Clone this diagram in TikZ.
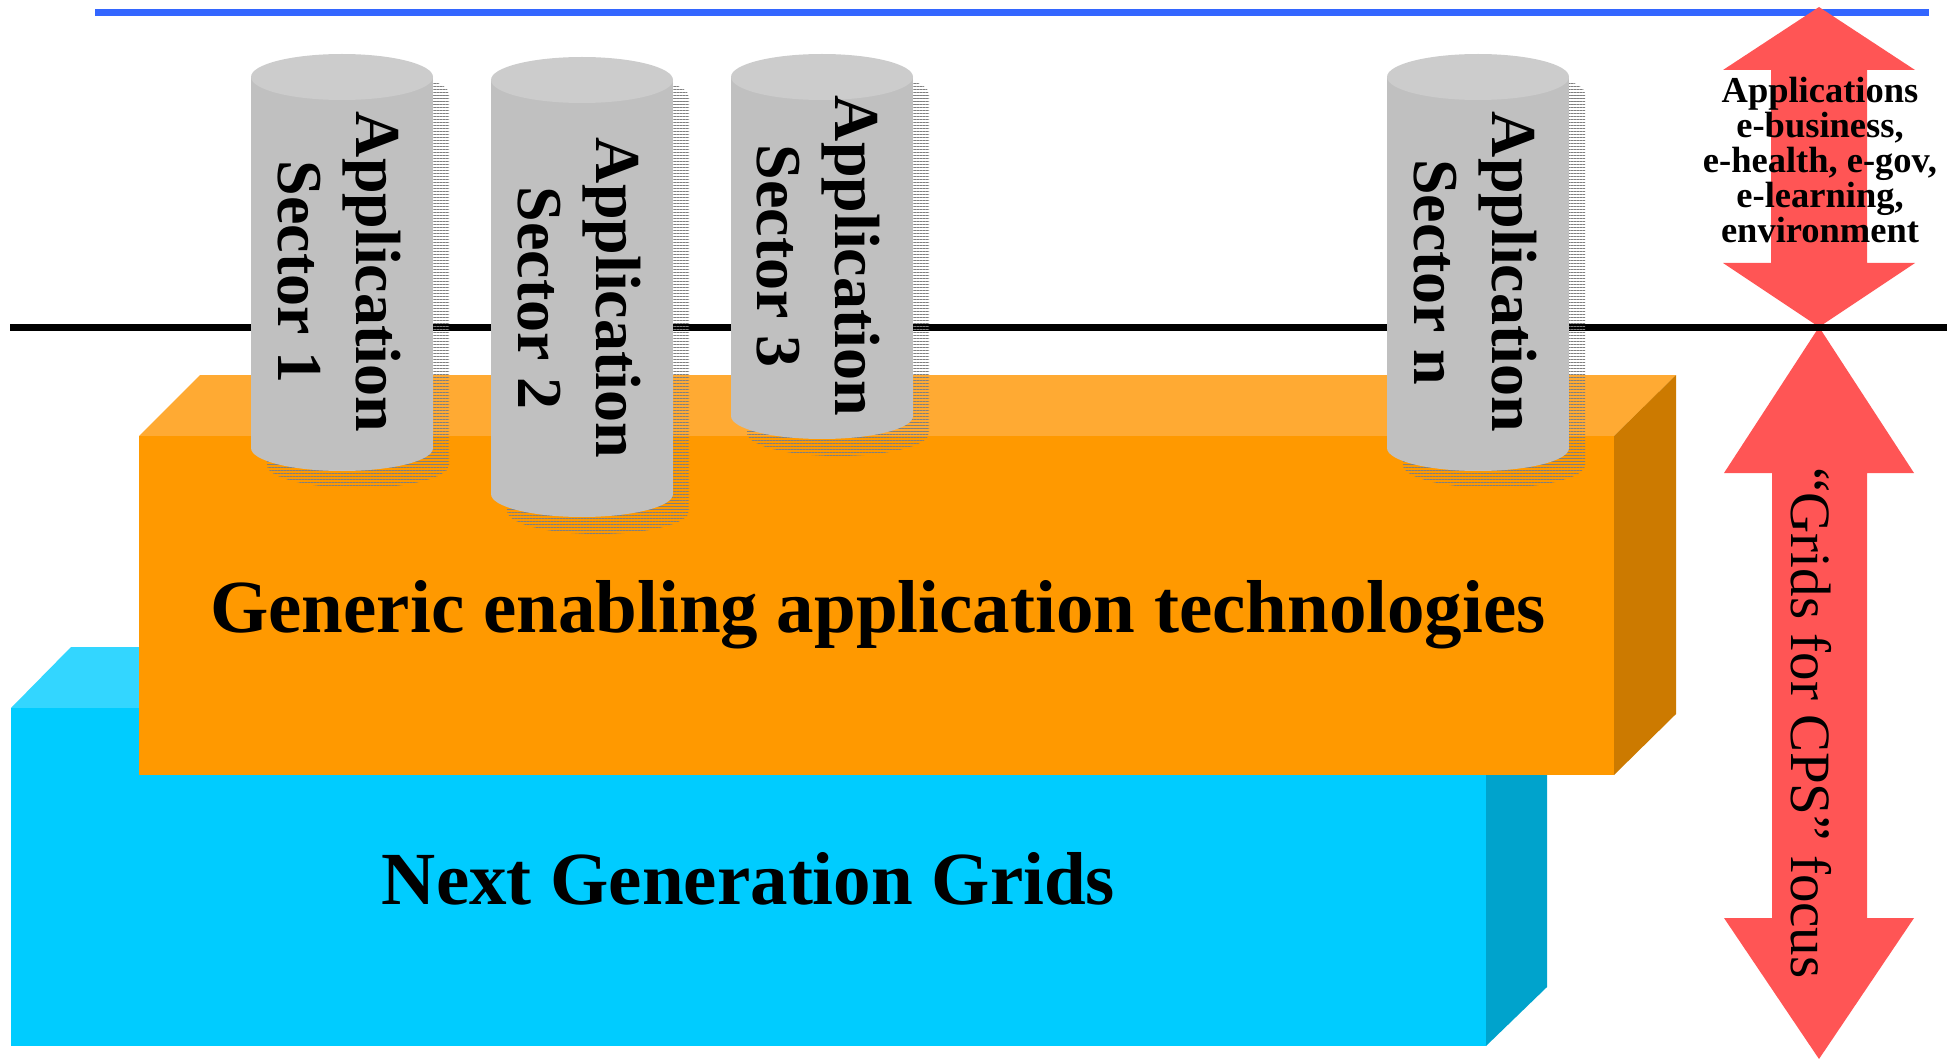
\documentclass[tikz,border=0pt]{standalone}
\usepackage{fontspec}
\setmainfont{Liberation Serif}
\usetikzlibrary{patterns.meta}

\definecolor{toprule}{HTML}{3366FF}
\definecolor{arrowred}{HTML}{FF5555}
\definecolor{orangefront}{HTML}{FF9900}
\definecolor{orangetop}{HTML}{FFAA33}
\definecolor{orangeside}{HTML}{CC7A00}
\definecolor{cyanfront}{HTML}{00CCFF}
\definecolor{cyantop}{HTML}{33D6FF}
\definecolor{cyanside}{HTML}{00A3CC}
\definecolor{cylbody}{HTML}{C0C0C0}
\definecolor{cylcap}{HTML}{CCCCCC}
\definecolor{shadowgray}{HTML}{7F7F7F}

% one application cylinder: centre x, top y, bottom y
\newcommand{\appcylinder}[3]{%
  \fill[cylshadow] ({#1-75},{#2+17}) rectangle ({#1+107},{#3+17});
  \fill[cylshadow] ({#1+16},{#2+17}) ellipse[x radius=91,y radius=23];
  \fill[cylshadow] ({#1+16},{#3+17}) ellipse[x radius=91,y radius=23];
  \fill[cylbody] ({#1-91},#2) rectangle ({#1+91},#3);
  \fill[cylbody] (#1,#3) ellipse[x radius=91,y radius=23];
  \fill[cylcap] (#1,#2) ellipse[x radius=91,y radius=23];
}

\begin{document}
\begin{tikzpicture}[x=1pt,y=-1pt,
  cylshadow/.style={pattern={Lines[angle=0,distance=3pt,line width=1pt]},pattern color=shadowgray},
  cyltext/.style={rotate=-90,inner sep=0pt,align=center,
    font=\fontsize{64}{78}\selectfont\bfseries},
  layertext/.style={anchor=base,inner sep=0pt,
    font=\fontsize{75}{90}\selectfont\bfseries},
  apptext/.style={inner sep=0pt,align=center,
    font=\fontsize{36.5}{35}\selectfont\bfseries},
  focustext/.style={rotate=-90,anchor=base,inner sep=0pt,
    font=\fontsize{57}{68}\selectfont}]
\useasboundingbox (0,0) rectangle (1959,1059);

% upper boundary line
\draw[toprule,line width=6.5pt] (95,12.5) -- (1929,12.5);

% scope arrows
\fill[arrowred] (1819,7) -- (1915,70) -- (1867,70) -- (1867,263) -- (1915,263)
  -- (1819,327) -- (1723,263) -- (1771,263) -- (1771,70) -- (1723,70) -- cycle;
\fill[arrowred] (1819,327) -- (1914,473) -- (1867,473) -- (1867,918) -- (1914,918)
  -- (1819,1059) -- (1724,918) -- (1772,918) -- (1772,473) -- (1724,473) -- cycle;

% dividing line
\draw[black,line width=7pt] (10,327) -- (1947,327);

% Next Generation Grids block
\fill[cyantop] (11,708) -- (71,647) -- (1547,647) -- (1486,708) -- cycle;
\fill[cyanside] (1486,708) -- (1547,647) -- (1547,987) -- (1486,1046) -- cycle;
\fill[cyanfront] (11,708) rectangle (1486,1046);

% generic enabling technologies block
\fill[orangetop] (139,436) -- (200,375) -- (1676,375) -- (1614,436) -- cycle;
\fill[orangeside] (1614,436) -- (1676,375) -- (1676,714) -- (1614,775) -- cycle;
\fill[orangefront] (139,436) rectangle (1614,775);

% application sectors
\appcylinder{342}{77}{448}
\appcylinder{582}{80}{494}
\appcylinder{822}{77}{416}
\appcylinder{1478}{77}{448}

\node[cyltext] (sec1) at (339.5,272) {Application\\Sector 1};
\node[cyltext] (sec2) at (579.5,298) {Application\\Sector 2};
\node[cyltext] (sec3) at (818.5,256) {Application\\Sector 3};
\node[cyltext] (secn) at (1475,272) {Application\\Sector n};

\node[layertext] (generic) at (878,632) {Generic enabling application technologies};
\node[layertext] (ngg) at (748.5,904) {Next Generation Grids};

\node[apptext] (apps) at (1820,160) {Applications\\e-business,\\e-health, e-gov,\\e-learning,\\environment};
\node[focustext] (focus) at (1791,723) {“Grids for CPS” focus};
\end{tikzpicture}
\end{document}
